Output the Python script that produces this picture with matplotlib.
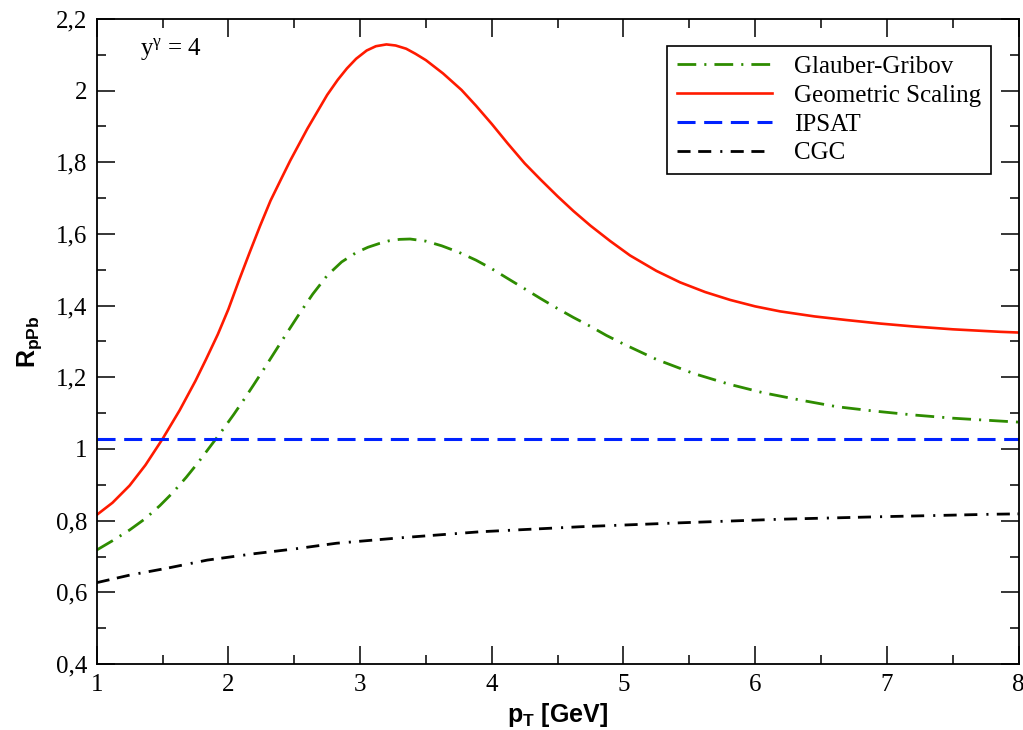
import numpy as np
import matplotlib
matplotlib.use("Agg")
import matplotlib.pyplot as plt
from matplotlib.ticker import MultipleLocator

gs_pt = [1.0, 1.12, 1.25, 1.37, 1.5, 1.63, 1.75, 1.83, 1.92, 2.0, 2.08, 2.16, 2.24,
         2.32, 2.4, 2.47, 2.6, 2.75, 2.83, 2.9, 2.97, 3.05, 3.12, 3.2, 3.27, 3.35,
         3.42, 3.5, 3.63, 3.77, 3.88, 4.0, 4.12, 4.25, 4.37, 4.5, 4.62, 4.75, 4.9,
         5.05, 5.25, 5.43, 5.62, 5.81, 6.0, 6.19, 6.45, 6.69, 6.95, 7.2, 7.5, 7.86, 8.0]
gs_r = [0.816, 0.85, 0.898, 0.955, 1.028, 1.108, 1.19, 1.25, 1.32, 1.39, 1.47,
        1.547, 1.622, 1.693, 1.753, 1.805, 1.894, 1.988, 2.03, 2.062, 2.089, 2.112,
        2.124, 2.129, 2.126, 2.117, 2.103, 2.085, 2.048, 2.002, 1.958, 1.907, 1.853,
        1.797, 1.752, 1.705, 1.664, 1.623, 1.58, 1.54, 1.497, 1.465, 1.438, 1.416,
        1.398, 1.384, 1.37, 1.36, 1.35, 1.342, 1.334, 1.327, 1.325]

gg_pt = [1.0, 1.12, 1.25, 1.37, 1.48, 1.58, 1.68, 1.77, 1.86, 1.95, 2.04, 2.12, 2.19,
         2.28, 2.37, 2.45, 2.54, 2.64, 2.75, 2.86, 2.97, 3.06, 3.15, 3.22, 3.3, 3.38,
         3.5, 3.62, 3.75, 3.88, 4.0, 4.12, 4.25, 4.37, 4.49, 4.62, 4.75, 4.87, 5.0,
         5.25, 5.53, 5.8, 6.06, 6.35, 6.62, 6.9, 7.2, 7.5, 7.86, 8.0]
gg_r = [0.718, 0.744, 0.774, 0.806, 0.842, 0.879, 0.921, 0.962, 1.006, 1.05, 1.096,
        1.139, 1.178, 1.229, 1.281, 1.327, 1.378, 1.432, 1.484, 1.522, 1.548, 1.563,
        1.574, 1.581, 1.585, 1.586, 1.58, 1.567, 1.549, 1.527, 1.503, 1.476, 1.447,
        1.42, 1.394, 1.367, 1.342, 1.317, 1.293, 1.25, 1.211, 1.181, 1.157, 1.136,
        1.118, 1.106, 1.095, 1.086, 1.078, 1.075]

ipsat_pt = [1.0, 8.0]
ipsat_r = [1.028, 1.028]

cgc_pt = [1.0, 1.25, 1.53, 1.84, 2.2, 2.5, 2.82, 3.3, 3.91, 4.67, 5.43, 6.19, 6.95,
          7.81, 8.0]
cgc_r = [0.627, 0.648, 0.667, 0.69, 0.708, 0.721, 0.737, 0.752, 0.769, 0.783, 0.794,
         0.804, 0.811, 0.818, 0.819]

xticks = [1, 2, 3, 4, 5, 6, 7, 8]
yticks = [0.4, 0.6, 0.8, 1.0, 1.2, 1.4, 1.6, 1.8, 2.0, 2.2]
ytick_labels = ["0,4", "0,6", "0,8", "1", "1,2", "1,4", "1,6", "1,8", "2", "2,2"]

plt.rcParams['mathtext.fontset'] = 'custom'
plt.rcParams['mathtext.rm'] = 'Liberation Serif'
plt.rcParams['mathtext.it'] = 'Liberation Serif:italic'
plt.rcParams['mathtext.bf'] = 'Liberation Sans:bold'
plt.rcParams['lines.scale_dashes'] = False

fig = plt.figure(figsize=(10.23, 7.30), dpi=100)
ax = fig.add_axes([0.0945, 0.0904, 0.9012, 0.8836])

l1, = ax.plot(gg_pt, gg_r, color='#2e8c00', lw=2.0, label='Glauber-Gribov')
l1.set_dashes((13.5, 5.8, 1.5, 5.8))
ax.plot(gs_pt, gs_r, color='#ff1a00', lw=1.9, label='Geometric Scaling')
l3, = ax.plot(ipsat_pt, ipsat_r, color='#0022ff', lw=2.2, label='IPSAT')
l3.set_dashes((13, 6.2))
l4, = ax.plot(cgc_pt, cgc_r, color='black', lw=2.0, label='CGC')
l4.set_dashes((9.4, 5.5, 9.4, 6.5, 1.5, 6.0))

ax.set_xlim(1, 8)
ax.set_ylim(0.4, 2.2)
ax.set_xticks(xticks)
ax.set_xticklabels([str(t) for t in xticks])
ax.set_yticks(yticks)
ax.set_yticklabels(ytick_labels)
ax.xaxis.set_minor_locator(MultipleLocator(0.5))
ax.yaxis.set_minor_locator(MultipleLocator(0.1))
ax.tick_params(which='both', direction='in', top=True, right=True, width=1.1,
               labelsize=18, labelfontfamily='Liberation Serif')
ax.tick_params(which='major', length=13, pad=7)
ax.tick_params(which='minor', length=6.5)
for s in ax.spines.values():
    s.set_linewidth(1.3)

ax.set_xlabel(r'$\mathbf{p_T}$ [GeV]', fontsize=18, fontfamily='Liberation Sans',
              fontweight='bold', labelpad=4)
ax.set_ylabel(r'$\mathbf{R_{pPb}}$', fontsize=18, labelpad=8)

ax.text(1.33, 2.115, r'y$^{\mathrm{\gamma}}$ = 4', fontsize=18,
        fontfamily='Liberation Serif', va='center')

leg = ax.legend(loc='upper right', bbox_to_anchor=(0.970, 0.958), borderaxespad=0,
                prop={'family': 'Liberation Serif', 'size': 18}, handlelength=3.8,
                handletextpad=0.9, labelspacing=0.25, borderpad=0.38, fancybox=False,
                framealpha=1)
leg.get_frame().set_edgecolor('black')
leg.get_frame().set_linewidth(1.2)

fig.savefig('out.png', dpi=100)
